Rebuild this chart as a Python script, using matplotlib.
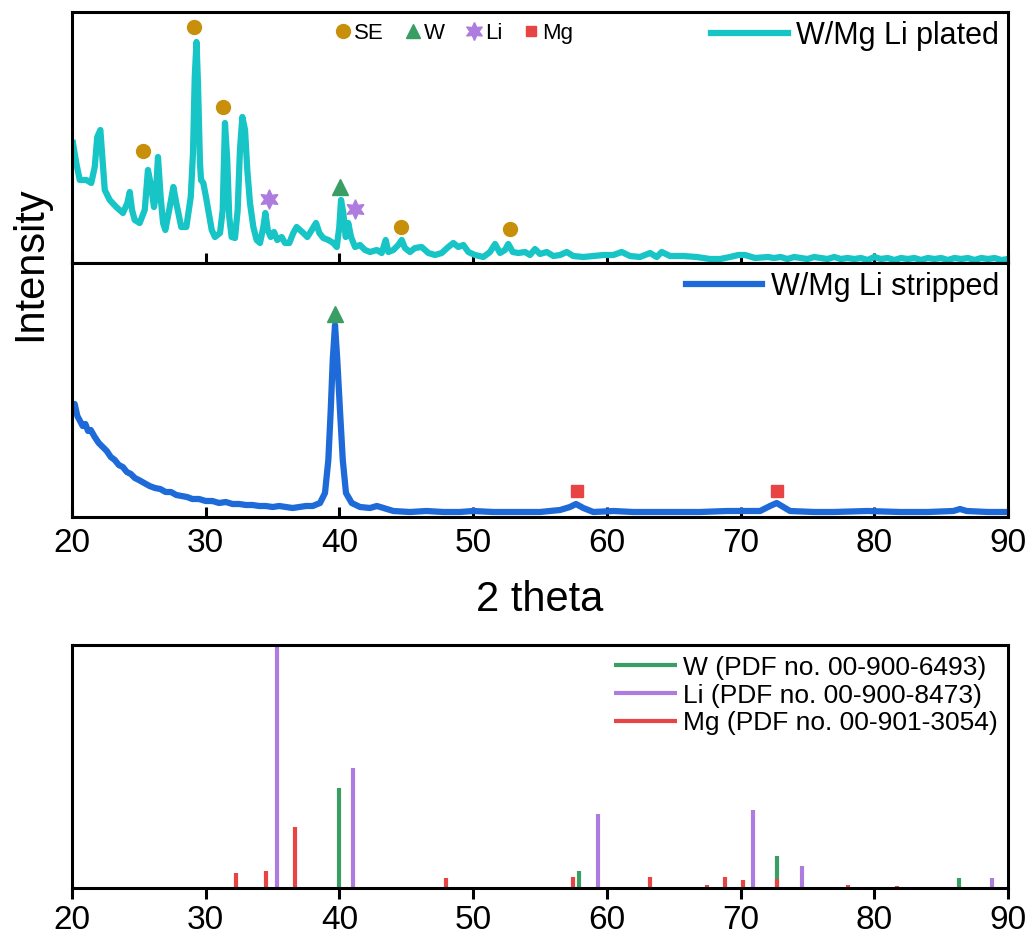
import matplotlib
matplotlib.use('Agg')
import matplotlib.pyplot as plt
from matplotlib.lines import Line2D

plt.rcParams['font.family'] = ['Liberation Sans', 'DejaVu Sans']

# W/Mg after Li plating (2 theta, intensity a.u.)
tt_plated = [20.07, 20.32, 20.58, 21.07, 21.44, 21.70, 21.89, 22.12, 22.27, 22.45,
             22.82, 23.31, 23.81, 24.14, 24.32, 24.49, 24.69, 25.06, 25.44, 25.68,
             25.93, 26.13, 26.26, 26.43, 26.63, 26.81, 26.98, 27.31, 27.58, 27.80,
             28.17, 28.55, 28.88, 29.05, 29.18, 29.31, 29.42, 29.57, 29.65, 29.82,
             30.02, 30.19, 30.45, 30.69, 31.07, 31.27, 31.44, 31.61, 31.76, 31.94,
             32.19, 32.39, 32.56, 32.74, 32.94, 33.11, 33.31, 33.56, 33.81, 34.06,
             34.31, 34.46, 34.64, 34.86, 35.11, 35.35, 35.68, 35.93, 36.25, 36.55,
             36.80, 37.05, 37.30, 37.60, 37.93, 38.25, 38.50, 38.79, 39.17, 39.54,
             39.80, 39.99, 40.12, 40.29, 40.47, 40.66, 40.87, 41.17, 41.54, 41.91,
             42.29, 42.79, 43.16, 43.46, 43.66, 44.03, 44.40, 44.66, 44.90, 45.28,
             45.65, 46.15, 46.65, 47.15, 47.65, 48.14, 48.52, 48.89, 49.27, 49.64,
             50.14, 50.76, 51.26, 51.64, 52.01, 52.38, 52.63, 52.96, 53.38, 53.88,
             54.25, 54.63, 55.00, 55.50, 56.00, 56.50, 57.00, 57.49, 58.24, 58.99,
             59.74, 60.49, 61.11, 61.73, 62.48, 63.23, 63.73, 64.10, 64.73, 65.72,
             66.72, 67.72, 68.46, 69.21, 69.83, 70.33, 71.08, 72.05, 72.5, 73.0,
             73.5, 74.0, 74.5, 75.0, 75.5, 76.0, 76.5, 77.0, 77.5, 78.0,
             78.5, 79.0, 79.5, 80.0, 80.5, 81.0, 81.5, 82.0, 82.5, 83.0,
             83.5, 84.0, 84.5, 85.0, 85.5, 86.0, 86.5, 87.0, 87.5, 88.0,
             88.5, 89.0, 89.5, 90.0]
int_plated = [120, 100, 83, 83, 80, 96, 126, 133, 106, 73,
              63, 56, 50, 60, 71, 53, 43, 40, 53, 93,
              76, 56, 66, 106, 66, 40, 33, 56, 76, 60,
              36, 36, 66, 110, 186, 221, 180, 100, 83, 80,
              66, 53, 33, 26, 30, 53, 140, 103, 46, 26,
              25, 53, 113, 146, 133, 93, 60, 36, 23, 20,
              36, 50, 33, 26, 31, 23, 26, 20, 20, 30,
              36, 33, 30, 26, 33, 40, 30, 25, 23, 20,
              16, 36, 63, 50, 26, 40, 26, 16, 18, 13,
              11, 13, 10, 23, 11, 13, 18, 23, 15, 11,
              15, 16, 10, 8, 10, 16, 20, 16, 18, 11,
              8, 6, 11, 19, 10, 13, 19, 11, 10, 11,
              8, 14, 9, 11, 7, 8, 11, 7, 6, 7,
              8, 8, 11, 7, 6, 10, 6, 11, 7, 7,
              6, 4, 4, 6, 8, 8, 5, 6, 5, 6,
              4, 6, 5, 4, 6, 5, 4, 6, 4, 5,
              4, 5, 3, 6, 4, 5, 3, 5, 4, 5,
              3, 5, 4, 5, 3, 5, 4, 5, 3, 5,
              4, 5, 3, 4]

# W/Mg after Li stripping
tt_stripped = [20.0, 20.2, 20.4, 20.6, 20.8, 21.0, 21.2, 21.4, 21.7, 22.0,
               22.3, 22.6, 22.9, 23.2, 23.5, 23.8, 24.1, 24.4, 24.7, 25.0,
               25.4, 25.8, 26.2, 26.6, 27.0, 27.4, 27.8, 28.2, 28.6, 29.0,
               29.5, 30.0, 30.5, 31.0, 31.5, 32.0, 32.5, 33.0, 33.5, 34.0,
               34.5, 35.0, 35.5, 36.0, 36.5, 37.0, 37.5, 38.0, 38.55, 38.92,
               39.17, 39.35, 39.50, 39.67, 39.84, 40.04, 40.25, 40.49, 40.92, 41.54,
               42.29, 42.8, 43.3, 44.03, 45.28, 46.5, 47.77, 49.0, 50.01, 51.51,
               53.0, 55.0, 56.50, 57.24, 57.69, 58.24, 58.99, 60.5, 61.98, 64.5,
               66.97, 69.0, 71.46, 72.20, 72.70, 73.20, 73.70, 75.5, 76.94, 79.5,
               81.93, 84.0, 85.91, 86.41, 86.91, 88.5, 89.9]
int_stripped = [108, 113, 101, 96, 91, 93, 86, 87, 80, 74,
                70, 66, 60, 57, 52, 50, 45, 43, 39, 37,
                34, 31, 29, 28, 25, 25, 22, 21, 20, 18,
                18, 16, 16, 14, 15, 13, 13, 12, 12, 11,
                11, 10, 11, 10, 9, 10, 11, 11, 14, 24,
                57, 107, 157, 192, 157, 107, 57, 24, 14, 10,
                9, 11, 9, 6, 5, 6, 5, 5, 6, 5,
                5, 5, 7, 10, 13, 9, 5, 6, 5, 5,
                5, 6, 6, 11, 14, 10, 6, 5, 5, 6,
                5, 5, 6, 8, 6, 5, 5]

# phase markers on the patterns
se_tt = [25.29, 29.16, 31.33, 44.63, 52.72]
se_int = [112, 236, 156, 36, 34]
li_tt = [34.77, 41.19]
li_int = [64, 54]
w_plated_tt = [40.01]
w_plated_int = [76]
w_stripped_tt = [39.67]
w_stripped_int = [203]
mg_stripped_tt = [57.73, 72.76]
mg_stripped_int = [26, 26]

# reference patterns (relative intensity, %)
w_ref_tt = [40.0, 57.93, 72.7, 86.37]
w_ref_int = [41.0, 6.9, 13.2, 4.2]
li_ref_tt = [35.3, 40.98, 59.32, 70.9, 74.6, 88.79]
li_ref_int = [100.0, 49.3, 30.3, 32.1, 9.0, 4.1]
mg_ref_tt = [32.25, 34.5, 36.7, 47.95, 57.48, 63.24, 67.48, 68.8, 70.2, 72.7, 78.06, 81.73]
mg_ref_int = [6.3, 7.1, 25.2, 4.0, 4.4, 4.6, 1.1, 4.4, 3.4, 3.6, 1.1, 0.8]

c_plated = '#17C4C6'
c_stripped = '#1E6AD8'
c_se = '#C8900A'
c_w = '#3A9E64'
c_li = '#AE7CDE'
c_mg = '#E84444'

W, H = 1029, 938
fig = plt.figure(figsize=(W / 100, H / 100), dpi=100)

def box(x0, y0, x1, y1):
    return [x0 / W, 1 - y1 / H, (x1 - x0) / W, (y1 - y0) / H]

ax1 = fig.add_axes(box(72, 12, 1008, 263))
ax2 = fig.add_axes(box(72, 263, 1008, 517))
ax3 = fig.add_axes(box(72, 645, 1008, 888))

for ax in (ax1, ax2, ax3):
    ax.set_xlim(20, 90)
    ax.set_yticks([])
    for s in ax.spines.values():
        s.set_linewidth(2.2)
    ax.set_xticks(range(20, 91, 10))

# plated
ax1.plot(tt_plated, int_plated, color=c_plated, lw=4.5, label='W/Mg Li plated', solid_joinstyle='round')
ax1.set_ylim(0, 251)
ax1.plot(se_tt, se_int, 'o', color=c_se, ms=10, ls='none')
ax1.plot(li_tt, li_int, marker=(6, 1, 0), color=c_li, ms=14, ls='none')
ax1.plot(w_plated_tt, w_plated_int, '^', color=c_w, ms=11, ls='none')
ax1.tick_params(axis='x', direction='in', length=7, width=2.2, labelbottom=False)
leg1 = ax1.legend(loc='upper right', frameon=False, fontsize=22, handlelength=2.5,
                  handletextpad=0.27, borderaxespad=0.1, borderpad=0.2)
ax1.add_artist(leg1)

key = [Line2D([], [], ls='none', marker='o', color=c_se, ms=10, label='SE'),
       Line2D([], [], ls='none', marker='^', color=c_w, ms=10, label='W'),
       Line2D([], [], ls='none', marker=(6, 1, 0), color=c_li, ms=13, label='Li'),
       Line2D([], [], ls='none', marker='s', color=c_mg, ms=7, label='Mg')]
ax1.legend(handles=key, loc='center', bbox_to_anchor=(0.408, 0.916), ncol=4, frameon=False,
           fontsize=16, handlelength=0.8, handletextpad=0.1, columnspacing=0.9)

# stripped
ax2.plot(tt_stripped, int_stripped, color=c_stripped, lw=4.5, label='W/Mg Li stripped', solid_joinstyle='round')
ax2.set_ylim(0, 254)
ax2.plot(w_stripped_tt, w_stripped_int, '^', color=c_w, ms=11, ls='none')
ax2.plot(mg_stripped_tt, mg_stripped_int, 's', color=c_mg, ms=9, ls='none')
ax2.tick_params(axis='x', direction='in', length=7, width=2.2, labelsize=24, pad=8)
ax2.legend(loc='upper right', frameon=False, fontsize=22, handlelength=2.5,
           handletextpad=0.27, borderaxespad=0.1, borderpad=0.2)

# reference sticks
ax3.vlines(w_ref_tt, 0, w_ref_int, color=c_w, lw=3, label='W (PDF no. 00-900-6493)')
ax3.vlines(li_ref_tt, 0, li_ref_int, color=c_li, lw=3, label='Li (PDF no. 00-900-8473)')
ax3.vlines(mg_ref_tt, 0, mg_ref_int, color=c_mg, lw=3, label='Mg (PDF no. 00-901-3054)')
ax3.set_ylim(0, 100)
ax3.tick_params(axis='x', direction='out', length=8, width=2.2, labelsize=24, pad=4)
ax3.legend(loc='upper right', frameon=False, fontsize=19, handlelength=2.4,
           handletextpad=0.2, labelspacing=0.15, borderaxespad=0.2, borderpad=0.2)

fig.text(30 / W, 1 - 264 / H, 'Intensity', rotation=90, ha='center', va='center', fontsize=30)
fig.text(540 / W, 1 - 600 / H, '2 theta', ha='center', va='center', fontsize=30)

fig.savefig('out.png', dpi=100)
